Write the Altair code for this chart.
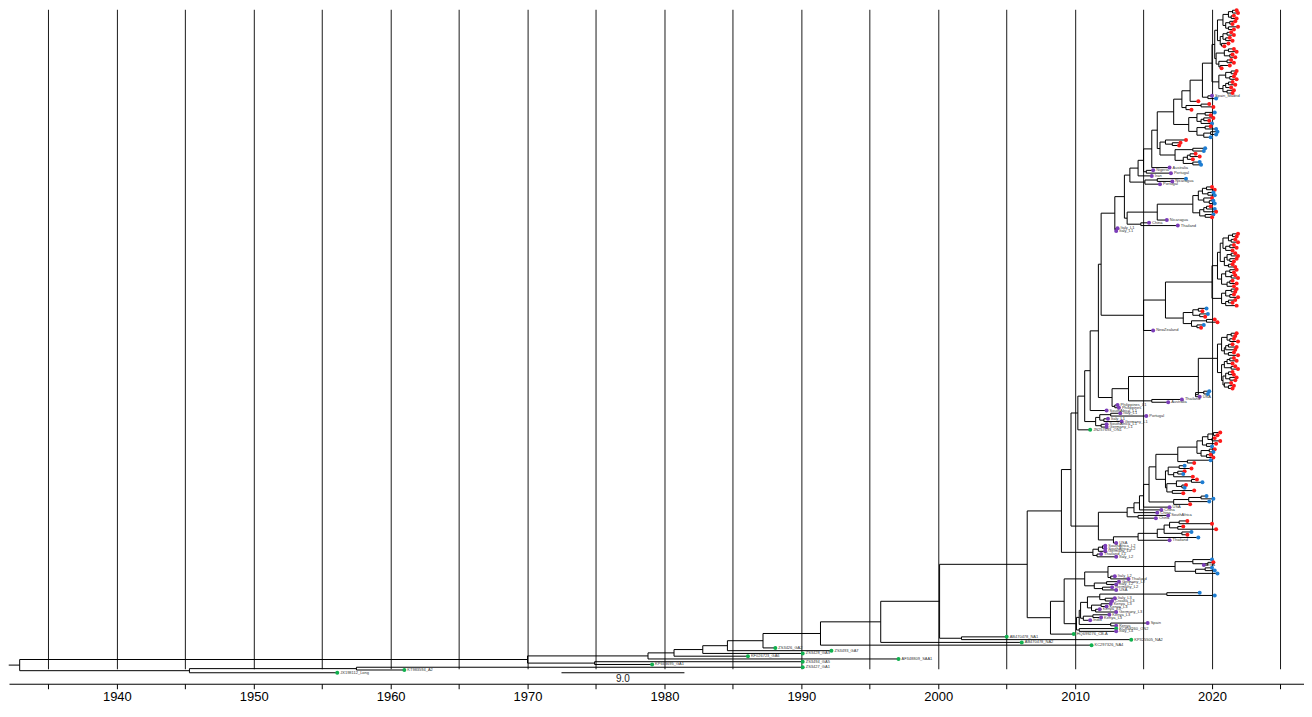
import altair as alt
import pandas as pd

# ---------------- data: tree clades (tip = colour:year:label, node = (children)year) -------------
A1A = "((((r:2021.8,r:2021.9)2021.5,(r:2021.6,r:2021.8)2021.4)2021.2,((r:2021.7,r:2021.5)2021.3,(r:2021.9,r:2021.6)2021.2)2021.0)2020.8,(((r:2021.4,r:2021.6)2021.1,(r:2021.3,r:2021.5)2021.0)2020.8,(r:2021.2,r:2020.9)2020.7)2020.6)2020.4"
A1B = "(((r:2021.6,r:2021.8)2021.2,(r:2021.5,r:2021.7)2021.3)2020.9,((r:2021.4,r:2021.6)2021.1,(r:2021.3,r:2020.7)2020.6)2020.5)2020.3"
A1C = "(((r:2021.8,r:2021.7)2021.4,(r:2021.6,r:2021.8)2021.3)2021.0,(((r:2021.5,r:2021.7)2021.2,r:2021.4)2021.0,(r:2021.6,r:2021.5)2021.1)2020.8)2020.5"
G1_BLUE = "(((b:2020.2,r:2019.9)2019.5,((r:2020.1,r:2019.8)2019.4,b:2020.0)2019.2)2018.9,((r:2019.9,b:2020.3)2019.5,((b:2020.4,b:2020.3)2019.9,b:2019.9)2019.4)2018.9)2018.3"
G1_MID = "((r:2018.1,(r:2017.7,r:2017.6)2017.1)2016.6,((b:2019.5,b:2019.4)2018.6,(((r:2018.8,r:2019.1)2018.4,r:2018.6)2018.2,(b:2019.1,b:2019.2)2018.6)2017.9)2017.3)2016.2"
B1 = "((((r:2020.0,r:2020.2)2019.6,(b:2020.1,b:2020.2)2019.7)2019.3,(r:2020.0,(b:2020.1,b:2020.2)2019.8)2019.4)2019.0,(((r:2019.9,b:2020.2)2019.6,r:2020.3)2019.4,(b:2020.1,r:2020.0)2019.5)2019.1)2018.6"
C1A = "(((((r:2021.9,r:2021.8)2021.5,(r:2021.7,r:2021.9)2021.4)2021.2,((r:2021.6,r:2021.8)2021.3,r:2021.5)2021.0)2020.8,(((r:2021.7,r:2021.9)2021.4,(r:2021.8,r:2021.6)2021.3)2021.1,(r:2021.5,r:2021.7)2021.2)2020.9)2020.6,(((r:2021.8,r:2021.6)2021.3,(r:2021.7,r:2021.9)2021.4)2021.0,((r:2021.5,r:2021.8)2021.3,r:2021.6)2021.1)2020.7)2020.4"
C1B = "(((r:2021.8,r:2021.7)2021.4,(r:2021.6,r:2021.9)2021.3)2021.0,((r:2021.7,r:2021.5)2021.2,r:2021.8)2021.0)2020.7"
C2 = "(((b:2019.6,r:2019.3)2019.0,(b:2019.7,r:2019.5)2019.1)2018.6,((r:2020.2,r:2020.4)2019.6,(b:2019.4,r:2019.2)2018.9)2018.5)2017.9"
D1 = "((((r:2021.8,r:2021.7)2021.4,(r:2021.6,r:2021.9)2021.3)2021.1,(((r:2021.5,r:2021.8)2021.2,r:2021.7)2021.0,(r:2021.6,r:2021.9)2021.2)2020.9)2020.7,((((r:2021.6,r:2021.8)2021.3,r:2021.5)2021.1,(r:2021.7,r:2021.9)2021.4)2020.9,(((r:2021.5,r:2021.6)2021.2,(r:2021.8,r:2021.7)2021.3)2021.0,(r:2021.4,(r:2021.6,r:2021.5)2021.2)2020.9)2020.8)2020.7)2020.4"
D_BLUE = "((b:2019.8,b:2019.7)2019.4,p:2019.1:USA)2018.8"
E1 = "(((((r:2020.6,r:2020.4)2020.1,(r:2020.2,r:2020.6)2020.0)2019.7,(r:2020.3,b:2020.0)2019.6)2019.3,((r:2020.2,b:2020.1)2019.8,(r:2019.9,r:2020.1)2019.6)2019.2)2018.9,(b:2019.9,r:2018.7)2018.2)2017.5"
E2 = "((b:2018.0,r:2018.5)2017.6,((r:2018.0,b:2017.9)2017.5,r:2018.6)2017.2)2016.8"
E3 = "(((r:2018.9,b:2019.3)2018.5,(r:2018.1,b:2018.0)2017.8)2017.4,(r:2018.7,r:2017.9)2017.1)2016.7"
E4 = "(((b:2019.6,b:2020.1)2019.2,b:2019.8)2018.3,r:2018.4)2017.2"
E5 = "((((r:2018.2,r:2020.0)2017.6,(r:2017.9,r:2020.3)2017.5)2016.9,(b:2018.5,r:2018.2)2017.8)2016.5,b:2019.0)2016.0"
L_GROUP = "(((p:2013.3:Italy_L1,p:2015.2:Portugal)2012.6,(p:2012.4:Italy_L1,p:2013.4:Germany_L1)2012.1)2011.8,(p:2012.3:SouthAfrica_L1,p:2012.3:Germany_L1)2011.9)2011.5"
L2_GROUP = "(((p:2012.2:SouthAfrica_L2,p:2012.2:SouthAfrica_L2)2012.0,p:2012.2:Germany_L2)2011.7,(p:2011.9:Thailand_L1,p:2013.0:Italy_L2)2011.6)2011.3"
F_CL = "((b:2020.0,(r:2020.1,p:2019.4:USA)2019.7)2018.6,((b:2020.0,b:2020.2)2019.5,b:2020.4)2018.8)2017.3"
F_L3 = "((((b:2019.1,b:2020.2)2016.7,(p:2012.9:Italy_L3,p:2012.7:Croatia_L3)2012.2)2011.8,((p:2012.6:Kenya_L3,p:2012.3:Kenya_L3)2011.9,(p:2011.8:Kenya_L3,p:2013.0:Germany_L3)2011.5)2011.2)2010.9,((p:2012.5:Kenya_L3,p:2011.9:Kenya_L3)2011.3,p:2011.1:India)2010.6)2010.4"

# ---------------- assemble the tree ----------------
ON1_TOP = f"((({A1A},{A1B})2020.2,{A1C})2020.0,(p:2020.0:Spain_Madrid,b:2020.3)2019.7)2019.3"
G1B = f"({ON1_TOP},r:2019.0)2018.4"
G1C = f"({G1B},((r:2019.8,r:2020.1)2019.2,r:2018.5)2018.1)2017.8"
G1_UP = f"({G1C},{G1_BLUE})2017.2"
G1_X = f"({G1_UP},{G1_MID})2016.0"
G1_Y = f"({G1_X},p:2016.9:Australia)2015.6"
G1 = f"((({G1_Y},(p:2015.7:Nigeria,p:2017.0:Portugal)2015.2)2015.0,p:2015.6:Iran)2014.6,((b:2018.1,p:2017.1:Nicaragua)2016.0,p:2016.2:Portugal)2015.1)2014.0"
NB = f"(({B1},p:2016.7:Nicaragua)2016.0,(p:2015.4:China,p:2017.5:Thailand)2014.8)2013.8"
AB = f"(({G1},{NB})2013.6,(p:2013.1:Italy_L1,p:2013.0:Italy_L1)2012.95)2012.9"
NC = f"((({C1A},{C1B})2020.0,{C2})2016.6,p:2015.7:NewZealand)2015.0"
P1102 = f"({AB},{NC})2011.9"
D_C = f"(({D1},{D_BLUE})2019.0,(p:2017.8:Thailand,p:2016.8:Australia)2015.6)2013.9"
D_D = f"({D_C},(p:2013.1:Philippines_L1,p:2013.2:Philippines)2012.9)2012.7"
P1099 = f"({P1102},{D_D})2011.7"
P1092 = f"({P1099},p:2012.3:SouthAfrica_L1)2011.1"
P1087 = f"({P1092},{L_GROUP})2010.7"
P1079 = f"({P1087},g:2011.1:JN257693_ON1)2010.2"
E_A = f"({E1},({E2},{E3})2016.6)2015.9"
L_B = f"({E_A},{E4})2015.4"
L_C = f"({L_B},p:2016.9:USA)2015.0"
L_D = f"({L_C},p:2016.3:China)2014.7"
L_E = f"({L_D},p:2016.0:China)2014.3"
L_F = f"({L_E},(p:2016.8:SouthAfrica,p:2015.9:China)2014.6)2013.8"
E5T = f"(({E5},p:2016.9:Thailand)2014.6,p:2013.0:USA)2012.8"
E = f"({L_F},{E5T})2011.7"
P1072 = f"({P1079},{E})2009.7"
ON1 = f"({P1072},{L2_GROUP})2009.0"
F_TOP = f"(({F_CL},(p:2012.9:Italy_L2,p:2013.9:Thailand)2012.6)2012.4,((p:2013.2:Germany_L2,p:2013.0:Italy_L2)2012.3,(p:2012.7:Germany_L2,p:2013.0:USA)2012.0)2011.4)2010.7"
F_LOW = f"(({F_L3},(p:2015.3:Spain,p:2013.0:Kenya)2012.6)2010.3,(g:2013.0:KC858260_ON2,p:2013.0:Italy_L4)2010.3)2010.1"
F = f"(({F_TOP},{F_LOW})2009.2,g:2009.9:HQ699276_CB-A)2008.2"
N2006 = f"({ON1},{F})2006.5"
N2000 = f"({N2006},(g:2005.0:AB470478_NA1,g:2014.1:KP325505_NA2)2001.7)2000.1"
N1995 = f"({N2000},g:2006.1:AB470478_NA2)1995.8"
N1991 = f"({N1995},g:2011.2:KC297326_NA4)1991.4"
N1987 = f"({N1991},g:1988.1:ZS3426_GA2)1987.2"
N1984 = f"({N1987},g:1992.2:ZS3493_GA7)1984.6"
N1982 = f"({N1984},g:1990.1:ZS3428_GA3)1982.8"
N1980 = f"({N1982},g:1986.1:KF026723_GA6)1980.7"
N1978 = f"({N1980},g:1997.1:AF348809_SAA1)1978.8"
N1970 = f"({N1978},(g:1990.1:ZS3494_GA5,g:1979.1:KP663695_GA1)1974.9)1970.0"
NLONG = "((g:1990.1:ZS3427_GA1,g:1961.0:KT983594_A2)1957.5,g:1956.1:JX198112_Long)1945.3"
TREE = f"({N1970},{NLONG})1932.9"
ROOT_STUB = 1932.1

TICK_YEARS = list(range(1935, 2030, 5))
X_DOMAIN = [1932.12, 2026.72]
SCALE_BAR = [1972.48, 1981.46]
SCALE_LABEL = "9.0"
COLOR_KEYS = ["r", "b", "p", "g"]
COLOR_VALUES = ["#FF1A1A", "#1E7DD2", "#7B3DB8", "#10B04E"]


# ---------------- parse ----------------
def parse(s):
    nodes = []
    pos = 0

    def token():
        nonlocal pos
        start = pos
        while pos < len(s) and s[pos] not in ",()":
            pos += 1
        return s[start:pos]

    def node(parent):
        nonlocal pos
        idx = len(nodes)
        nodes.append({"parent": parent, "children": []})
        if s[pos] == "(":
            pos += 1
            while True:
                nodes[idx]["children"].append(node(idx))
                if s[pos] == ",":
                    pos += 1
                else:
                    pos += 1
                    break
            nodes[idx]["year"] = float(token())
            nodes[idx]["tip"] = False
        else:
            parts = token().split(":")
            nodes[idx]["color"] = parts[0]
            nodes[idx]["year"] = float(parts[1])
            nodes[idx]["label"] = parts[2] if len(parts) > 2 else ""
            nodes[idx]["tip"] = True
        return idx

    node(None)
    return nodes


nodes = parse(TREE)
k = 0
for n in nodes:
    if n["tip"]:
        n["y"] = float(k)
        k += 1
NTIP = k
for n in reversed(nodes):
    if not n["tip"]:
        n["y"] = sum(nodes[c]["y"] for c in n["children"]) / len(n["children"])

segs = []
for n in nodes:
    if n["parent"] is not None:
        p = nodes[n["parent"]]
        segs.append({"x": p["year"], "x2": n["year"], "y": n["y"], "y2": n["y"]})
    else:
        segs.append({"x": ROOT_STUB, "x2": n["year"], "y": n["y"], "y2": n["y"]})
    if not n["tip"]:
        ys = [nodes[c]["y"] for c in n["children"]]
        segs.append({"x": n["year"], "x2": n["year"], "y": min(ys), "y2": max(ys)})
seg_df = pd.DataFrame(segs)
tips_df = pd.DataFrame([{"x": n["year"], "y": n["y"], "c": n["color"], "label": n["label"]}
                        for n in nodes if n["tip"]])
lab_df = tips_df[tips_df["label"] != ""]

# ---------------- layout ----------------
W, H = 1296, 660
TOP_PX, BOT_PX = 1.0, 664.0
span = (NTIP - 1) * H / (BOT_PX - TOP_PX)
d0 = -TOP_PX * span / H
Y_DOMAIN = [d0, d0 + span]

xs = alt.Scale(domain=X_DOMAIN, nice=False, zero=False)
ys = alt.Scale(domain=Y_DOMAIN, reverse=True, nice=False, zero=False)

axis = alt.Axis(values=TICK_YEARS,
                labelExpr="datum.value % 10 == 0 ? toString(datum.value) : ''",
                grid=True, gridColor="#000000", gridWidth=1, gridOpacity=0.9,
                domainColor="#000000", domainWidth=1, tickColor="#000000", tickSize=5,
                labelFont="Liberation Sans", labelFontSize=13, labelColor="#000000",
                labelPadding=2, offset=15, title=None)

X = alt.X("x:Q", scale=xs, axis=axis, title=None)
Y = alt.Y("y:Q", scale=ys, axis=None, title=None)

lines = alt.Chart(seg_df).mark_rule(color="#000000", strokeWidth=1).encode(
    x=X, x2="x2:Q", y=Y, y2="y2:Q",
)

points = alt.Chart(tips_df).mark_circle(size=16, opacity=1).encode(
    x=X, y=Y,
    color=alt.Color("c:N", scale=alt.Scale(domain=COLOR_KEYS, range=COLOR_VALUES), legend=None),
)

labels = alt.Chart(lab_df).mark_text(align="left", baseline="middle", dx=3, fontSize=4,
                                     font="Liberation Sans", color="#333333").encode(
    x=X, y=Y, text="label:N",
)

bar_df = pd.DataFrame({"x": [SCALE_BAR[0]], "x2": [SCALE_BAR[1]],
                       "xm": [(SCALE_BAR[0] + SCALE_BAR[1]) / 2], "t": [SCALE_LABEL]})
bar = alt.Chart(bar_df).mark_rule(color="#000000", strokeWidth=1).encode(
    x=X, x2="x2:Q", y=alt.value(H + 4))
bar_text = alt.Chart(bar_df).mark_text(fontSize=10, font="Liberation Sans", color="#222222",
                                       baseline="alphabetic").encode(
    x=alt.X("xm:Q", scale=xs, axis=axis, title=None), y=alt.value(H + 13), text="t:N")

chart = alt.layer(lines, points, labels, bar, bar_text).properties(
    width=W, height=H, padding=0
).configure_view(strokeWidth=0)

chart.save("out.html", embed_options={"renderer": "svg", "actions": False})
